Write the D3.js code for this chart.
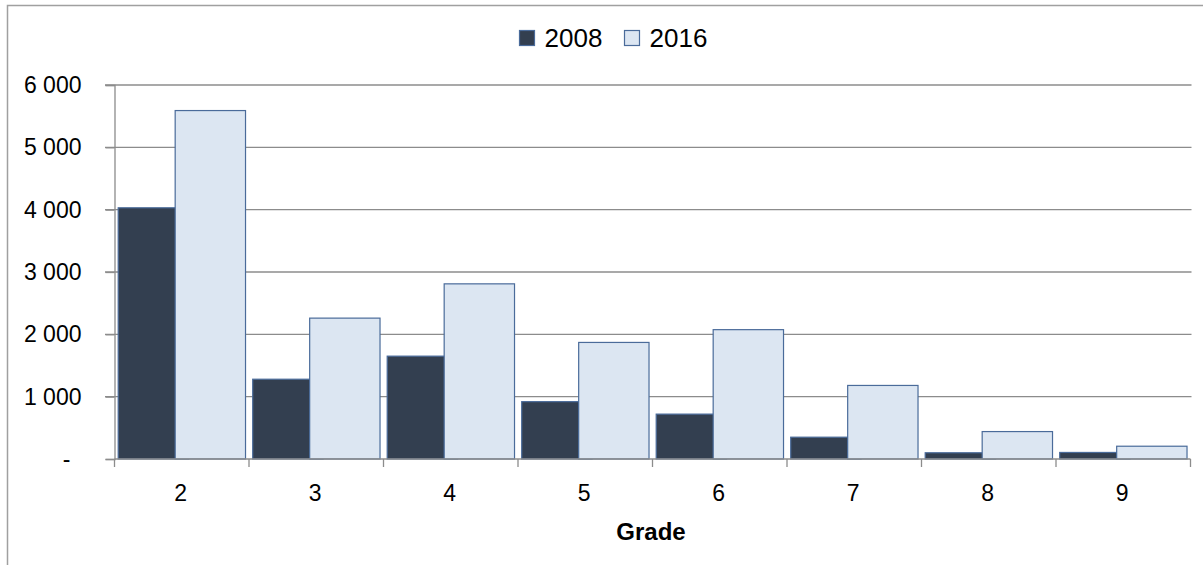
<!DOCTYPE html>
<html>
<head>
<meta charset="utf-8">
<script src="https://cdn.jsdelivr.net/npm/d3@7/dist/d3.min.js"></script>
<style>
  body { margin: 0; background: #fff; }
  text { font-family: "Liberation Sans", Arial, sans-serif; fill: #000; }
</style>
</head>
<body>
<script>
var grades = ["2", "3", "4", "5", "6", "7", "8", "9"];
var series = ["2008", "2016"];
var values2008 = [4030, 1280, 1650, 920, 720, 350, 100, 105];
var values2016 = [5590, 2260, 2810, 1870, 2075, 1180, 440, 205];
var yTicks = [0, 1000, 2000, 3000, 4000, 5000, 6000];

var colors = {"2008": "#333f50", "2016": "#dce6f2"};
var strokeCol = "#4a6b9a";

var W = 1203, H = 565;
var svg = d3.select("body").append("svg").attr("width", W).attr("height", H);

// outer chart border (right and bottom run off the picture)
svg.append("rect")
    .attr("x", 7.5).attr("y", 5.5)
    .attr("width", 1300).attr("height", 700)
    .attr("fill", "none").attr("stroke", "#a0a0a0").attr("stroke-width", 1.5);

var x = d3.scaleBand().domain(grades).range([114.5, 1190.5]).padding(0);
var y = d3.scaleLinear().domain([0, 6000]).range([459, 85]);

// gridlines
svg.append("g").selectAll("line")
    .data(yTicks.filter(function(d){ return d > 0; }))
    .enter().append("line")
    .attr("x1", 105).attr("x2", 1191.5)
    .attr("y1", function(d){ return y(d); })
    .attr("y2", function(d){ return y(d); })
    .attr("stroke", "#8c8c8c").attr("stroke-width", 1.3);

var band = x.bandwidth();
var bw = band * 0.523;
var off = band * 0.0275;

var rows = grades.map(function(g, i){ return {g: g, a: values2008[i], b: values2016[i]}; });

// 2008 bars first, 2016 overlaps on top
svg.append("g").selectAll("rect")
    .data(rows).enter().append("rect")
    .attr("x", function(d){ return x(d.g) + off; })
    .attr("y", function(d){ return y(d.a); })
    .attr("width", bw)
    .attr("height", function(d){ return y(0) - y(d.a); })
    .attr("fill", colors["2008"])
    .attr("stroke", strokeCol).attr("stroke-width", 1.2);

svg.append("g").selectAll("rect")
    .data(rows).enter().append("rect")
    .attr("x", function(d){ return x(d.g) + off + bw * 0.81; })
    .attr("y", function(d){ return y(d.b); })
    .attr("width", bw)
    .attr("height", function(d){ return y(0) - y(d.b); })
    .attr("fill", colors["2016"])
    .attr("stroke", strokeCol).attr("stroke-width", 1.2);

// y axis
var yAxis = d3.axisLeft(y).tickValues(yTicks).tickSize(9).tickPadding(24)
    .tickFormat(function(d){ return d == 0 ? "-" : d3.format(",")(d).replace(/,/g, " "); });
var gy = svg.append("g").attr("transform", "translate(114.5,0)").call(yAxis);
gy.select(".domain").attr("stroke", "#8c8c8c").attr("stroke-width", 1.3);
gy.selectAll(".tick line").attr("stroke", "#8c8c8c").attr("stroke-width", 1.3);
gy.selectAll(".tick text")
    .attr("font-family", "Liberation Sans, Arial, sans-serif")
    .attr("font-size", 23).attr("fill", "#000")
    .attr("dx", function(d){ return d == 0 ? -11 : 0; });

// x axis
svg.append("line")
    .attr("x1", 114.5).attr("x2", 1190.5).attr("y1", 459).attr("y2", 459)
    .attr("stroke", "#8c8c8c").attr("stroke-width", 1.5);
svg.append("g").selectAll("line")
    .data(grades.concat(["end"])).enter().append("line")
    .attr("x1", function(d){ return d == "end" ? 1190.5 : x(d); })
    .attr("x2", function(d){ return d == "end" ? 1190.5 : x(d); })
    .attr("y1", 459).attr("y2", 467)
    .attr("stroke", "#8c8c8c").attr("stroke-width", 1.3);
svg.append("g").selectAll("text")
    .data(grades).enter().append("text")
    .attr("x", function(d){ return x(d) + band / 2 - 1; })
    .attr("y", 501)
    .attr("text-anchor", "middle")
    .attr("font-size", 23)
    .text(function(d){ return d; });

svg.append("text")
    .attr("x", 651).attr("y", 540)
    .attr("text-anchor", "middle")
    .attr("font-size", 24).attr("font-weight", "bold")
    .text("Grade");

// legend
var leg = svg.append("g").selectAll("g")
    .data(series).enter().append("g")
    .attr("transform", function(d, i){ return "translate(" + (519.5 + i * 105) + ",30.5)"; });
leg.append("rect")
    .attr("width", 15).attr("height", 15)
    .attr("fill", function(d){ return colors[d]; })
    .attr("stroke", strokeCol).attr("stroke-width", 1.2);
leg.append("text")
    .attr("x", 25).attr("y", 16.5)
    .attr("font-size", 26)
    .text(function(d){ return d; });
</script>
</body>
</html>
